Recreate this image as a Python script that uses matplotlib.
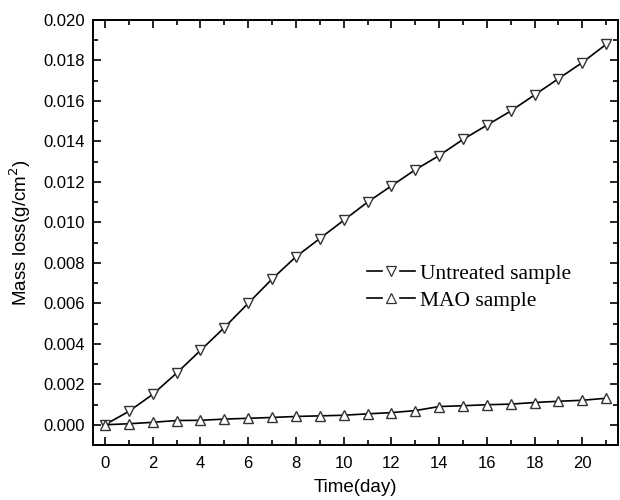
import matplotlib.pyplot as plt
from matplotlib.ticker import MultipleLocator
from matplotlib.lines import Line2D
from matplotlib.legend_handler import HandlerBase

# --- Data ---
days = list(range(22))
untreated = [0.0, 0.00066, 0.0015, 0.00255, 0.00367, 0.0048, 0.006, 0.0072,
             0.0083, 0.0092, 0.0101, 0.011, 0.0118, 0.0126, 0.0133, 0.0141,
             0.0148, 0.0155, 0.0163, 0.0171, 0.0179, 0.0188]
mao = [0.0, 0.00005, 0.00012, 0.00021, 0.00022, 0.00028, 0.00032, 0.00036,
       0.00041, 0.00044, 0.00047, 0.00054, 0.0006, 0.0007, 0.0009, 0.00094,
       0.00099, 0.00102, 0.0011, 0.00116, 0.00121, 0.00131]
labels = ['Untreated sample', 'MAO sample']
markers = ['v', '^']


class BrokenLineHandler(HandlerBase):
    """Origin-style legend key: line, small open marker, line."""

    def create_artists(self, legend, orig_handle, xdescent, ydescent,
                       width, height, fontsize, trans):
        y = height / 2 - ydescent
        x0 = -xdescent
        x1 = x0 + width
        xm = (x0 + x1) / 2
        gap = 0.36 * width
        left = Line2D([x0, xm - gap / 2], [y, y], color='black', lw=1.2)
        right = Line2D([xm + gap / 2, x1], [y, y], color='black', lw=1.2)
        pt = Line2D([xm], [y], linestyle='none',
                    marker=orig_handle.get_marker(), markersize=6.5,
                    markerfacecolor='white', markeredgecolor='#333333',
                    markeredgewidth=0.9)
        for a in (left, right, pt):
            a.set_transform(trans)
        return [left, right, pt]


plt.rcParams['font.family'] = ['Liberation Sans', 'DejaVu Sans']

fig = plt.figure(figsize=(6.2, 5.0), dpi=100)
ax = fig.add_axes([0.150, 0.110, 0.847, 0.850])

marker_style = dict(color='black', linewidth=1.2, markersize=7.5,
                    markerfacecolor='white', markeredgecolor='#333333',
                    markeredgewidth=1.0)
for ys, mk, lab in zip([untreated, mao], markers, labels):
    ax.plot(days, ys, marker=mk, label=lab, **marker_style)

ax.set_xlim(-0.5, 21.5)
ax.set_ylim(-0.001, 0.020)
ax.xaxis.set_major_locator(MultipleLocator(2))
ax.xaxis.set_minor_locator(MultipleLocator(1))
ax.yaxis.set_major_locator(MultipleLocator(0.002))
ax.yaxis.set_minor_locator(MultipleLocator(0.001))
ax.yaxis.set_major_formatter(plt.FuncFormatter(lambda v, p: f"{v:.3f}"))

ax.tick_params(which='both', direction='in', top=True, right=True,
               labelsize=12, width=1.2)
ax.tick_params(which='major', length=6)
ax.tick_params(which='minor', length=3.5)
ax.tick_params(axis='x', pad=8)
ax.tick_params(axis='y', pad=6)
for s in ax.spines.values():
    s.set_linewidth(1.4)

ax.set_xlabel('Time(day)', fontsize=13.5, labelpad=6)
ax.set_ylabel('Mass loss(g/cm$^2$)', fontsize=13.5, labelpad=7)

ax.legend(handler_map={Line2D: BrokenLineHandler()},
          loc='upper left', bbox_to_anchor=(0.522, 0.427), frameon=False,
          prop={'family': 'Liberation Serif', 'size': 15.5},
          borderaxespad=0, borderpad=0,
          handlelength=2.23, handletextpad=0.23, labelspacing=0.32)

plt.savefig('out.png', dpi=100)
